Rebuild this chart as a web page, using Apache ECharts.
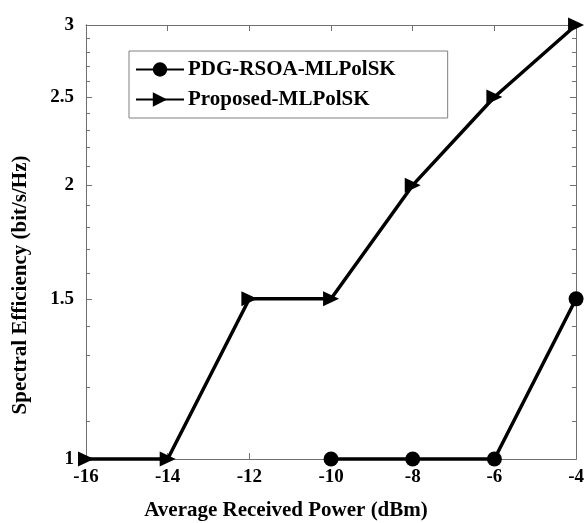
<!DOCTYPE html>
<html>
<head>
<meta charset="utf-8">
<script src="https://cdn.jsdelivr.net/npm/echarts@6/dist/echarts.min.js"></script>
<style>html,body{margin:0;padding:0;background:#fff}#c{width:587px;height:523px}</style>
</head>
<body>
<div id="c"></div>
<script>
const xValues = [-16, -14, -12, -10, -8, -6, -4];
const pdgRsoa = [null, null, null, 1, 1, 1, 1.5];
const proposed = [1, 1, 1.5, 1.5, 2, 2.5, 3];
const yMajorTicks = [1, 1.5, 2, 2.5, 3];
const yMinorTicks = [1.1, 1.2, 1.3, 1.4, 1.6, 1.7, 1.8, 1.9, 2.1, 2.2, 2.3, 2.4, 2.6, 2.7, 2.8, 2.9];
const seriesNames = ['PDG-RSOA-MLPolSK', 'Proposed-MLPolSK'];
const xTitle = 'Average Received Power (dBm)';
const yTitle = 'Spectral Efficiency (bit/s/Hz)';

const FONT = 'Liberation Serif';
const AX = '#707070';
const chart = echarts.init(document.getElementById('c'));

function yAxisDef(pos, ticks, len, labels) {
  return {
    type: 'log', logBase: 10, min: 1, max: 3, position: pos,
    axisLine: { show: true, onZero: false, lineStyle: { color: AX, width: 1 } },
    axisTick: { show: true, inside: true, length: len, customValues: ticks, lineStyle: { color: AX, width: 1 } },
    axisLabel: labels ? { show: true, customValues: yMajorTicks, fontFamily: FONT, fontWeight: 'bold', fontSize: 19, color: '#000', margin: 12, padding: [0, 0, 10, 0], formatter: v => String(v) } : { show: false },
    splitLine: { show: false }, minorTick: { show: false }
  };
}

chart.setOption({
  animation: false,
  backgroundColor: '#fff',
  grid: { left: 86, right: 3, top: 25, bottom: 64, containLabel: false },
  xAxis: [
    { type: 'value', min: -16, max: -4, interval: 2, position: 'bottom',
      axisLine: { show: true, onZero: false, lineStyle: { color: AX, width: 1 } },
      axisTick: { show: true, inside: true, length: 6, lineStyle: { color: AX } },
      axisLabel: { fontFamily: FONT, fontWeight: 'bold', fontSize: 19, color: '#000', margin: 9 },
      splitLine: { show: false } },
    { type: 'value', min: -16, max: -4, interval: 2, position: 'top',
      axisLine: { show: true, onZero: false, lineStyle: { color: AX, width: 1 } },
      axisTick: { show: true, inside: true, length: 6, lineStyle: { color: AX } },
      axisLabel: { show: false }, splitLine: { show: false } }
  ],
  yAxis: [
    yAxisDef('left', yMajorTicks, 6, true),
    yAxisDef('left', yMinorTicks, 4, false),
    yAxisDef('right', yMajorTicks, 6, false),
    yAxisDef('right', yMinorTicks, 4, false)
  ],
  legend: {
    orient: 'vertical', left: 129, top: 51,
    itemWidth: 48, itemHeight: 18, itemGap: 9,
    padding: [8, 52, 8, 6],
    borderColor: '#808080', borderWidth: 1, backgroundColor: '#fff',
    textStyle: { fontFamily: FONT, fontWeight: 'bold', fontSize: 21, lineHeight: 20, color: '#000', padding: [0, 0, 0, -1] },
    data: seriesNames
  },
  series: [
    { name: seriesNames[0], type: 'line', data: xValues.map((x, i) => [x, pdgRsoa[i]]),
      symbol: 'circle', symbolSize: 15, color: '#000',
      lineStyle: { color: '#000', width: 3.5 }, itemStyle: { color: '#000' }, clip: false, z: 5 },
    { name: seriesNames[1], type: 'line', data: xValues.map((x, i) => [x, proposed[i]]),
      symbol: 'triangle', symbolSize: [15, 16], symbolRotate: -90, color: '#000',
      lineStyle: { color: '#000', width: 3.5 }, itemStyle: { color: '#000' }, clip: false, z: 5 }
  ],
  graphic: [
    { type: 'text', x: 286, y: 511, style: { text: xTitle, fontFamily: FONT, fontWeight: 'bold', fontSize: 21, fill: '#000', align: 'center', verticalAlign: 'middle' } },
    { type: 'text', x: 21, y: 285, rotation: Math.PI / 2, style: { text: yTitle, fontFamily: FONT, fontWeight: 'bold', fontSize: 21, fill: '#000', align: 'center', verticalAlign: 'middle' } }
  ]
});
</script>
</body>
</html>
